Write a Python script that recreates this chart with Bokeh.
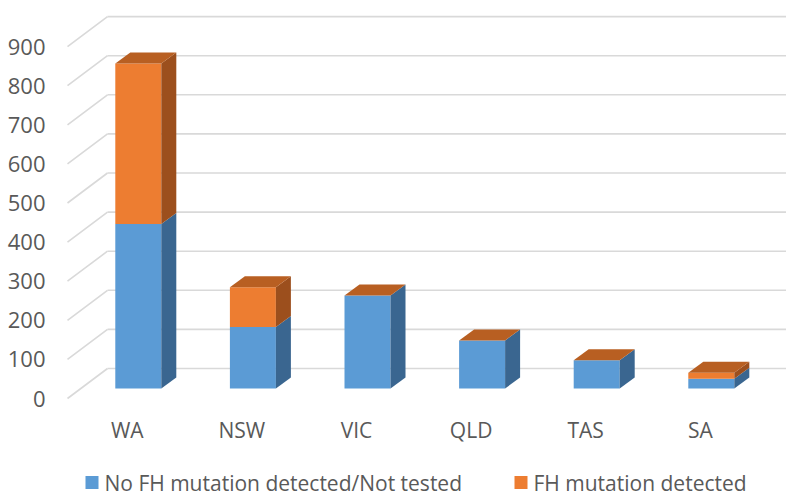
from bokeh.plotting import figure
from bokeh.models import Range1d, ColumnDataSource
from bokeh.core.properties import value
from bokeh.embed import file_html
from bokeh.resources import INLINE

# ---- data ----
states = ["WA", "NSW", "VIC", "QLD", "TAS", "SA"]
no_fh = [421, 157, 238, 123, 72, 25]          # No FH mutation detected/Not tested
fh = [410, 102, 0, 0, 0, 15]                  # FH mutation detected
ticks = [0, 100, 200, 300, 400, 500, 600, 700, 800, 900]
series_names = ["No FH mutation detected/Not tested", "FH mutation detected"]

# ---- styles / geometry (pixels) ----
W, H = 786, 496
PX_X = 114.6       # px per category
PX_Y = 0.391       # px per value unit
ORIGIN_X = 137.8   # px of first category centre (bar front face)
ORIGIN_Y = 108.0   # px of value 0 (bar plane) above bottom
BAR_HALF = 23
SIDE_DX, SIDE_DY = 15, 11
WALL_DX, WALL_DY = 40, 30      # floor depth (front edge -> back wall)
FRONT_DY = 10                   # label plane lies this far below the bar plane
WALL_LEFT = 107
LABEL_RIGHT = 45
CAT_DX, CAT_DY = 11, 31
LEG_Y = 14                      # legend centre, px above bottom
LEG_SQ = 13
LEG_GAP = 6
LEG_ITEMS_X = [85, 514]         # legend squares' left edges, px

BLUE, BLUE_SIDE = "#5B9BD5", "#3A6690"
ORANGE, ORANGE_SIDE, ORANGE_TOP = "#ED7D31", "#9C4F1D", "#B85F22"
GRID = "#D9D9D9"
TXT = "#595959"
FONT = value("Open Sans")


def dx(px):
    return px / PX_X


def dy(px):
    return px / PX_Y


x0 = -ORIGIN_X / PX_X
y0 = -ORIGIN_Y / PX_Y
p = figure(width=W, height=H, x_range=Range1d(x0, x0 + dx(W)),
           y_range=Range1d(y0, y0 + dy(H)), toolbar_location=None,
           output_backend="svg", min_border=0)
p.axis.visible = False
p.grid.visible = False
p.outline_line_color = None
p.background_fill_color = "white"

# ---- back wall gridlines + floor diagonals ----
wall_x = x0 + dx(WALL_LEFT)
front_x = wall_x - dx(WALL_DX)
back_off = dy(WALL_DY - FRONT_DY)
p.segment(x0=[wall_x] * len(ticks), y0=[t + back_off for t in ticks],
          x1=[x0 + dx(W)] * len(ticks), y1=[t + back_off for t in ticks],
          line_color=GRID, line_width=1.6)
p.segment(x0=[front_x] * len(ticks), y0=[t - dy(FRONT_DY) for t in ticks],
          x1=[wall_x] * len(ticks), y1=[t + back_off for t in ticks],
          line_color=GRID, line_width=1.6)

# ---- tick labels ----
p.text(x=[x0 + dx(LABEL_RIGHT)] * len(ticks), y=[t - dy(FRONT_DY) for t in ticks],
       text=[str(t) for t in ticks], text_align="right", text_baseline="middle",
       text_font=FONT, text_font_size="22px", text_color=TXT)

# ---- bars ----
xs = list(range(len(states)))
tops_blue = no_fh
tops_or = [b + o for b, o in zip(no_fh, fh)]
bottoms_blue = [0] * len(states)
hw = dx(BAR_HALF)
sdx, sdy = dx(SIDE_DX), dy(SIDE_DY)


def side_patches(bottoms, tops):
    pxs, pys = [], []
    for i, b, t in zip(xs, bottoms, tops):
        r = i + hw
        pxs.append([r, r + sdx, r + sdx, r])
        pys.append([b, b + sdy, t + sdy, t])
    return pxs, pys


src_b = ColumnDataSource(dict(left=[i - hw for i in xs], right=[i + hw for i in xs],
                              bottom=bottoms_blue, top=tops_blue))
src_o = ColumnDataSource(dict(left=[i - hw for i in xs], right=[i + hw for i in xs],
                              bottom=tops_blue, top=tops_or))
p.quad(source=src_b, left="left", right="right", bottom="bottom", top="top",
       fill_color=BLUE, line_color=None)
sx, sy = side_patches(bottoms_blue, tops_blue)
p.patches(xs=sx, ys=sy, fill_color=BLUE_SIDE, line_color=None)
p.quad(source=src_o, left="left", right="right", bottom="bottom", top="top",
       fill_color=ORANGE, line_color=None)
sx, sy = side_patches(tops_blue, tops_or)
p.patches(xs=sx, ys=sy, fill_color=ORANGE_SIDE, line_color=None)

txs, tys = [], []
for i, t in zip(xs, tops_or):
    l, r = i - hw, i + hw
    txs.append([l, r, r + sdx, l + sdx])
    tys.append([t, t, t + sdy, t + sdy])
p.patches(xs=txs, ys=tys, fill_color=ORANGE_TOP, line_color=None)

# ---- category labels ----
p.text(x=[i - dx(CAT_DX) for i in xs], y=[-dy(FRONT_DY + CAT_DY)] * len(xs), text=states,
       text_align="center", text_baseline="middle", text_font=FONT,
       text_font_size="21px", text_color=TXT)

# ---- legend ----
leg_left = [x0 + dx(lx) for lx in LEG_ITEMS_X]
leg_cy = y0 + dy(LEG_Y)
p.quad(left=leg_left, right=[l + dx(LEG_SQ) for l in leg_left],
       bottom=[leg_cy - dy(LEG_SQ / 2)] * 2, top=[leg_cy + dy(LEG_SQ / 2)] * 2,
       fill_color=[BLUE, ORANGE], line_color=None)
p.text(x=[l + dx(LEG_SQ + LEG_GAP) for l in leg_left], y=[leg_cy] * 2, text=series_names,
       text_align="left", text_baseline="middle", text_font=FONT,
       text_font_size="21px", text_color=TXT)

open("out.html", "w").write(file_html(p, INLINE))
